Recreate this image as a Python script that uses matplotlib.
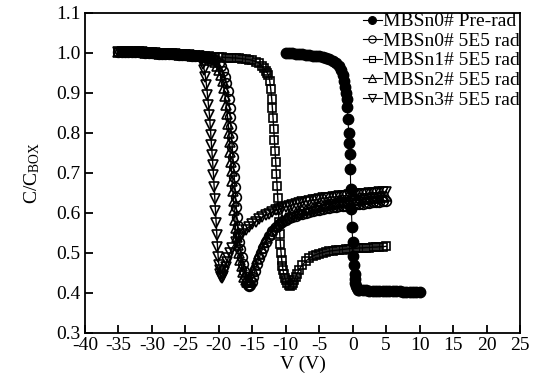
import numpy as np
import matplotlib
matplotlib.use('Agg')
import matplotlib.pyplot as plt

plt.rcParams['font.family'] = ['Liberation Serif', 'DejaVu Serif']
plt.rcParams['mathtext.fontset'] = 'custom'
plt.rcParams['mathtext.rm'] = 'Liberation Serif'
plt.rcParams['mathtext.it'] = 'Liberation Serif:italic'
plt.rcParams['axes.unicode_minus'] = False

# common plateau of the irradiated samples
v_top = [-35, -34.5, -34, -33.5, -33, -32.5, -32, -31.5, -31, -30.5, -30, -29.5, -29,
         -28.5, -28, -27.5, -27, -26.5, -26, -25.5, -25, -24.5, -24, -23.5, -23]
c_top = [1.003, 1.003, 1.003, 1.002, 1.002, 1.002, 1.001, 1.001, 1.000, 1.000, 0.999, 0.999, 0.998,
         0.998, 0.997, 0.997, 0.996, 0.996, 0.995, 0.995, 0.994, 0.994, 0.993, 0.993, 0.992]

# MBSn0# Pre-rad
v_pre = [-10, -9.5, -9, -8.5, -8, -7.5, -7, -6.5, -6, -5.5, -5, -4.5, -4, -3.5, -3, -2.5, -2,
         -1.7, -1.45, -1.25, -1.1, -1.0, -0.9, -0.8, -0.7, -0.6, -0.5, -0.4, -0.35, -0.3, -0.2,
         -0.1, 0.0, 0.1, 0.2, 0.3, 0.35, 0.4, 0.5, 0.6, 0.8, 1.0, 1.5, 2, 2.5, 3, 3.5, 4, 4.5,
         5, 5.5, 6, 6.5, 7, 7.5, 8, 8.5, 9, 9.5, 10]
c_pre = [1.0, 1.0, 0.999, 0.998, 0.997, 0.996, 0.995, 0.994, 0.993, 0.992, 0.991, 0.989, 0.987,
         0.984, 0.98, 0.974, 0.966, 0.958, 0.945, 0.93, 0.915, 0.90, 0.885, 0.865, 0.834, 0.80,
         0.774, 0.748, 0.71, 0.659, 0.61, 0.564, 0.528, 0.492, 0.47, 0.447, 0.435, 0.425, 0.418,
         0.412, 0.408, 0.407, 0.406, 0.406, 0.405, 0.405, 0.405, 0.405, 0.404, 0.404, 0.404,
         0.404, 0.404, 0.404, 0.403, 0.403, 0.403, 0.403, 0.403, 0.403]

# MBSn0# 5E5 rad
v_n0 = v_top + [-22.5, -22, -21.5, -21, -20.5, -20, -19.7, -19.4, -19.1, -18.9, -18.7, -18.55,
                -18.4, -18.3, -18.2, -18.1, -18.0, -17.9, -17.8, -17.7, -17.6, -17.5, -17.4, -17.3,
                -17.2, -17.1, -16.95, -16.8, -16.6, -16.4, -16.2, -16.0, -15.85, -15.7, -15.5,
                -15.3, -15.1, -14.9, -14.6, -14.3, -14.0, -13.7, -13.4, -13.0, -12.5, -12.0,
                -11.5, -11.0, -10.5, -10.0, -9.5, -9.0, -8.5, -8.0, -7.5, -7.0, -6.5, -6.0, -5.5,
                -5.0, -4.5, -4.0, -3.5, -3.0, -2.5, -2.0, -1.5, -1.0, -0.5, 0.0, 0.5, 1.0, 1.5,
                2.0, 2.5, 3.0, 3.5, 4.0, 4.5, 5.0]
c_n0 = c_top + [0.991, 0.99, 0.988, 0.986, 0.981, 0.974, 0.966, 0.955, 0.94, 0.925, 0.905, 0.885,
                0.862, 0.84, 0.815, 0.79, 0.765, 0.74, 0.715, 0.69, 0.665, 0.64, 0.615, 0.59,
                0.567, 0.547, 0.528, 0.51, 0.49, 0.472, 0.455, 0.44, 0.428, 0.42, 0.416,
                0.42, 0.428, 0.439, 0.455, 0.471, 0.486, 0.5, 0.513, 0.527, 0.542, 0.554,
                0.564, 0.572, 0.578, 0.583, 0.587, 0.59, 0.593, 0.596, 0.598, 0.6, 0.602, 0.604,
                0.606, 0.608, 0.609, 0.611, 0.612, 0.614, 0.615, 0.616, 0.617, 0.618, 0.619,
                0.62, 0.621, 0.622, 0.623, 0.624, 0.625, 0.626, 0.627, 0.628, 0.629, 0.63]

# MBSn1# 5E5 rad
v_n1 = v_top + [-22.5, -22, -21.5, -21, -20.5, -20, -19.5, -19, -18.5, -18, -17.5, -17, -16.5,
                -16, -15.5, -15, -14.5, -14, -13.6, -13.3, -13.0, -12.8, -12.6, -12.4, -12.25,
                -12.1, -12.0, -11.9, -11.8, -11.7, -11.6, -11.5, -11.4, -11.3, -11.2, -11.1,
                -11.0, -10.9, -10.8, -10.7, -10.6, -10.5, -10.4, -10.3, -10.15, -10.0, -9.8,
                -9.55, -9.3, -9.1, -8.9, -8.7, -8.5, -8.3, -8.0, -7.5, -7.0, -6.5, -6.0, -5.5,
                -5.0, -4.5, -4.0, -3.5, -3.0, -2.5, -2.0, -1.5, -1.0, -0.5, 0.0, 0.5, 1.0, 1.5,
                2.0, 2.5, 3.0, 3.5, 4.0, 4.5, 5.0]
c_n1 = c_top + [0.992, 0.991, 0.991, 0.99, 0.99, 0.989, 0.989, 0.988, 0.988, 0.987, 0.987, 0.986,
                0.985, 0.984, 0.983, 0.981, 0.978, 0.974, 0.968, 0.962, 0.955, 0.95, 0.945, 0.93,
                0.91, 0.885, 0.862, 0.837, 0.81, 0.782, 0.755, 0.727, 0.698, 0.668, 0.638, 0.607,
                0.577, 0.548, 0.522, 0.5, 0.482, 0.468, 0.456, 0.447, 0.438, 0.431, 0.424,
                0.419, 0.418, 0.42, 0.425, 0.432, 0.44, 0.448, 0.458, 0.47, 0.479, 0.486, 0.491,
                0.495, 0.498, 0.5, 0.502, 0.504, 0.505, 0.506, 0.507, 0.508, 0.509, 0.51, 0.51,
                0.511, 0.512, 0.512, 0.513, 0.513, 0.514, 0.514, 0.515, 0.515, 0.516]

# MBSn2# 5E5 rad
v_n2 = v_top + [-22.5, -22, -21.5, -21, -20.6, -20.3, -20.0, -19.7, -19.45, -19.25, -19.05,
                -18.9, -18.75, -18.6, -18.5, -18.4, -18.3, -18.2, -18.1, -18.0, -17.9, -17.8,
                -17.7, -17.6, -17.5, -17.35, -17.2, -17.0, -16.8, -16.6, -16.4, -16.2, -16.0,
                -15.8, -15.6, -15.4, -15.2, -14.9, -14.6, -14.3, -14.0, -13.6, -13.2, -12.8,
                -12.4, -12.0, -11.5, -11.0, -10.5, -10.0, -9.5, -9.0, -8.5, -8.0, -7.5, -7.0,
                -6.5, -6.0, -5.5, -5.0, -4.5, -4.0, -3.5, -3.0, -2.5, -2.0, -1.5, -1.0, -0.5,
                0.0, 0.5, 1.0, 1.5, 2.0, 2.5, 3.0, 3.5, 4.0, 4.5, 5.0]
c_n2 = c_top + [0.991, 0.989, 0.986, 0.982, 0.976, 0.968, 0.958, 0.945, 0.93, 0.912, 0.892,
                0.87, 0.847, 0.823, 0.8, 0.776, 0.752, 0.728, 0.704, 0.68, 0.655, 0.63,
                0.606, 0.583, 0.561, 0.54, 0.52, 0.5, 0.482, 0.466, 0.452, 0.44, 0.431,
                0.426, 0.427, 0.433, 0.442, 0.456, 0.47, 0.484, 0.497, 0.512, 0.526, 0.538,
                0.548, 0.557, 0.567, 0.575, 0.582, 0.588, 0.593, 0.597, 0.6, 0.603, 0.606, 0.608,
                0.61, 0.612, 0.614, 0.616, 0.618, 0.62, 0.621, 0.623, 0.624, 0.626, 0.627, 0.628,
                0.63, 0.631, 0.632, 0.633, 0.634, 0.635, 0.636, 0.637, 0.638, 0.639, 0.64, 0.641]

# MBSn3# 5E5 rad
v_n3 = v_top + [-22.7, -22.4, -22.2, -22.0, -21.85, -21.7, -21.55, -21.4, -21.3, -21.2, -21.1,
                -21.0, -20.9, -20.8, -20.7, -20.6, -20.5, -20.4, -20.3, -20.2, -20.1, -20.0,
                -19.9, -19.8, -19.65, -19.5, -19.35, -19.2, -19.0, -18.8, -18.6, -18.3, -18.0,
                -17.5, -17.0, -16.5, -16.0, -15.5, -15.0, -14.5, -14.0, -13.5, -13.0, -12.5,
                -12.0, -11.5, -11.0, -10.5, -10.0, -9.5, -9.0, -8.5, -8.0, -7.5, -7.0, -6.5,
                -6.0, -5.5, -5.0, -4.5, -4.0, -3.5, -3.0, -2.5, -2.0, -1.5, -1.0, -0.5, 0.0,
                0.5, 1.0, 1.5, 2.0, 2.5, 3.0, 3.5, 4.0, 4.5, 5.0]
c_n3 = c_top + [0.985, 0.972, 0.958, 0.94, 0.92, 0.895, 0.87, 0.845, 0.82, 0.795, 0.77,
                0.745, 0.72, 0.695, 0.665, 0.635, 0.605, 0.575, 0.545, 0.515, 0.49, 0.47,
                0.457, 0.447, 0.44, 0.437, 0.443, 0.452, 0.464, 0.476, 0.487, 0.5, 0.512,
                0.527, 0.538, 0.548, 0.557, 0.565, 0.572, 0.578, 0.584, 0.589, 0.594, 0.598,
                0.602, 0.606, 0.609, 0.612, 0.615, 0.617, 0.62, 0.622, 0.624, 0.626, 0.628, 0.63,
                0.631, 0.633, 0.634, 0.636, 0.637, 0.638, 0.639, 0.64, 0.641, 0.642, 0.643,
                0.644, 0.645, 0.646, 0.647, 0.647, 0.648, 0.649, 0.65, 0.65, 0.651, 0.652, 0.652]

labels = ['MBSn0# Pre-rad', 'MBSn0# 5E5 rad', 'MBSn1# 5E5 rad', 'MBSn2# 5E5 rad', 'MBSn3# 5E5 rad']

fig = plt.figure(figsize=(5.42, 3.89), dpi=100)
ax = fig.add_axes([0.1568, 0.1447, 0.8026, 0.8226])

ax.plot(v_pre, c_pre, '-', color='k', lw=0.8, marker='o', ms=7.5, mfc='k', mec='k', label=labels[0])
ax.plot(v_n0, c_n0, '-', color='k', lw=1.0, marker='o', ms=7, mfc='none', mec='k', mew=1.2, label=labels[1])
ax.plot(v_n2, c_n2, '-', color='k', lw=1.0, marker='^', ms=7.5, mfc='none', mec='k', mew=1.2, label=labels[3])
ax.plot(v_n3, c_n3, '-', color='k', lw=1.0, marker='v', ms=7.5, mfc='none', mec='k', mew=1.2, label=labels[4])
ax.plot(v_n1, c_n1, '-', color='k', lw=1.0, marker='s', ms=6, mfc='none', mec='k', mew=1.2, label=labels[2])

# legend order as in the figure
h, l = ax.get_legend_handles_labels()
order = [l.index(s) for s in labels]
leg = ax.legend([h[i] for i in order], [l[i] for i in order], loc='upper right',
                bbox_to_anchor=(1.0, 1.0), frameon=False, borderpad=0, borderaxespad=0,
                handlelength=1.0, handletextpad=0.05, labelspacing=0.1, fontsize=14,
                numpoints=1, markerscale=0.75)
for lh in leg.legend_handles:
    lh.set_markeredgewidth(0.8)
    lh.set_linewidth(0.8)

ax.set_xlim(-40, 25)
ax.set_ylim(0.3, 1.1)
ax.set_xticks(np.arange(-40, 26, 5))
ax.set_yticks(np.arange(0.3, 1.11, 0.1))
ax.set_yticklabels(['%.1f' % t for t in np.arange(0.3, 1.11, 0.1)])
ax.tick_params(direction='in', length=6, width=1.3, labelsize=14, pad=3)
ax.tick_params(axis='x', pad=3)
for s in ax.spines.values():
    s.set_linewidth(1.3)

ax.set_xlabel('V (V)', fontsize=14, labelpad=1)
ax.set_ylabel(r'C/C$_{\mathrm{BOX}}$', fontsize=14, labelpad=10)

plt.savefig('out.png', dpi=100)
plt.close(fig)
